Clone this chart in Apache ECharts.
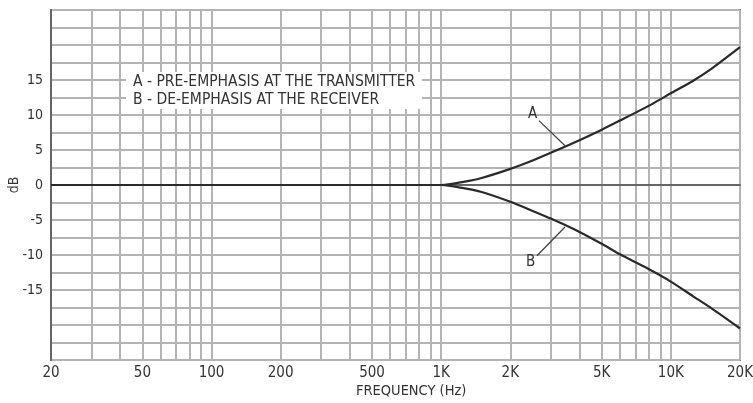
<!DOCTYPE html>
<html><head><meta charset="utf-8">
<script src="https://cdn.jsdelivr.net/npm/echarts@6/dist/echarts.min.js"></script>
<style>html,body{margin:0;padding:0;background:#fff}#c{width:753px;height:403px}</style>
</head><body><div id="c"></div>
<script>
// Data
const freqs  = [20, 100, 500, 1000, 1250, 1500, 2000, 2500, 3000, 4000, 5000, 6000, 8000, 10000, 12500, 15000, 20000];
const curveA = [0, 0, 0, 0, 0.45, 1.0, 2.3, 3.5, 4.6, 6.4, 7.9, 9.2, 11.3, 13.1, 14.9, 16.6, 19.7];
const curveB = [0, 0, 0, 0, -0.45, -1.0, -2.4, -3.7, -4.8, -6.7, -8.4, -9.9, -12.0, -13.8, -15.9, -17.6, -20.5];
const gridFreqs = [20,30,40,50,60,70,80,90,100,200,300,400,500,600,700,800,900,1000,2000,3000,4000,5000,6000,7000,8000,9000,10000,20000];
const xTickLabels = [20,50,100,200,500,1000,2000,5000,10000,20000];
const yTickLabels = [15,10,5,0,-5,-10,-15];
const legendLines = ['A - PRE-EMPHASIS AT THE TRANSMITTER', 'B - DE-EMPHASIS AT THE RECEIVER'];
const leaderA = [[2665, 9.2], [3460, 5.6]];
const leaderB = [[2612, -10.1], [3460, -6.0]];

const FONT = "'Liberation Sans Narrow','DejaVu Sans Condensed','Liberation Sans',sans-serif";
const fmtF = v => v >= 1000 ? (v/1000) + 'K' : String(v);

const chart = echarts.init(document.getElementById('c'));
const lineStyle = {color:'#2a2a2a', width:2.2};
chart.setOption({
  animation:false,
  grid:{left:51, right:13, top:10, bottom:43, containLabel:false, outerBoundsMode:'none',
        show:true, borderColor:'#7a7a7a', borderWidth:2, backgroundColor:'#fff'},
  xAxis:{
    type:'log', logBase:10, min:20, max:20000,
    axisLine:{show:true, lineStyle:{color:'#666', width:2}},
    axisTick:{show:false, customValues:gridFreqs},
    axisLabel:{customValues:xTickLabels, formatter:v=>fmtF(v), color:'#333', fontSize:15, fontFamily:FONT, margin:6},
    splitLine:{show:true, lineStyle:{color:'#b4b4b4', width:2}},
    minorSplitLine:{show:false}
  },
  yAxis:{
    type:'value', min:-25, max:25, interval:2.5,
    name:'dB', nameLocation:'middle', nameGap:30, nameRotate:90, nameMoveOverlap:false,
    nameTextStyle:{color:'#333', fontSize:14, fontFamily:FONT},
    axisLine:{show:true, lineStyle:{color:'#666', width:2}},
    axisTick:{show:false},
    axisLabel:{color:'#333', fontSize:14, fontFamily:FONT, margin:8,
      formatter:v=> yTickLabels.indexOf(v) >= 0 ? String(v) : ''},
    splitLine:{show:true, lineStyle:{color:'#b4b4b4', width:2}}
  },
  graphic:[
    {type:'rect', left:126, top:72, shape:{width:296, height:37}, style:{fill:'#fff'}, z:5},
    {type:'text', left:133, top:74, style:{text:legendLines[0], fill:'#333', font:'15.5px '+FONT}, z:6},
    {type:'text', left:133, top:92, style:{text:legendLines[1], fill:'#333', font:'15.5px '+FONT}, z:6},
    {type:'text', left:356, top:384, style:{text:'FREQUENCY (Hz)', fill:'#333', font:'14.5px '+FONT}, z:6}
  ],
  series:[
    {type:'line', name:'A', data:freqs.map((f,i)=>[f,curveA[i]]), smooth:0.25, showSymbol:false, lineStyle,
      markLine:{silent:true, symbol:'none', lineStyle:{color:'#444', width:1.3, type:'solid'},
        label:{show:true, position:'start', formatter:'A', color:'#333', fontSize:15, fontFamily:FONT, distance:9},
        data:[[{coord:leaderA[0]},{coord:leaderA[1]}]]}},
    {type:'line', name:'B', data:freqs.map((f,i)=>[f,curveB[i]]), smooth:0.25, showSymbol:false, lineStyle,
      markLine:{silent:true, symbol:'none', lineStyle:{color:'#444', width:1.3, type:'solid'},
        label:{show:true, position:'start', formatter:'B', color:'#333', fontSize:15, fontFamily:FONT, distance:9},
        data:[[{coord:leaderB[0]},{coord:leaderB[1]}]]}}
  ]
});
</script></body></html>
